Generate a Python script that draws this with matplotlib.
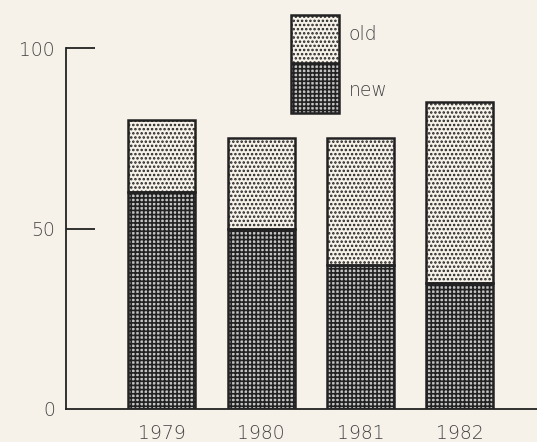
import matplotlib.pyplot as plt
from matplotlib.patches import Rectangle
import numpy as np

years = ["1979", "1980", "1981", "1982"]
new = [60, 50, 40, 35]
old = [20, 25, 35, 50]

paper = "#f6f2e9"
ink = "#222222"
txt = "#444444"

plt.rcParams['hatch.linewidth'] = 1.2

fig = plt.figure(figsize=(5.37, 4.42), dpi=100, facecolor=paper)
W, H = 537, 442
x0, x1 = 66, 537
y0, y100 = 409, 48
ax = fig.add_axes([x0 / W, (H - y0) / H, (x1 - x0) / W, (y0 - y100) / H])
ax.set_facecolor(paper)

step = 99.5
xa = -(161.5 - x0) / step
ax.set_xlim(xa, xa + (x1 - x0) / step)
ax.set_ylim(0, 100)

x = np.arange(len(years))
w = 67 / step

# fill with patterns, then outline
ax.bar(x, new, w, color="#c4c4c4", edgecolor=ink, hatch="++++", linewidth=0)
ax.bar(x, old, w, bottom=new, color=paper, edgecolor=ink, hatch="....", linewidth=0)
ax.bar(x, new, w, fill=False, edgecolor=ink, linewidth=1.8)
ax.bar(x, old, w, bottom=new, fill=False, edgecolor=ink, linewidth=1.8)

for s in ["top", "right"]:
    ax.spines[s].set_visible(False)
ax.spines["left"].set_color(ink)
ax.spines["bottom"].set_color(ink)
ax.spines["left"].set_linewidth(1.3)
ax.spines["bottom"].set_linewidth(1.3)

ax.set_yticks([0, 50, 100])
ax.set_yticklabels(["0", "50", "100"])
ax.tick_params(axis="y", length=0, pad=8, labelsize=13.5, labelcolor=txt)
ax.set_xticks(x)
ax.set_xticklabels(years)
ax.tick_params(axis="x", length=0, pad=11, labelsize=13.5, labelcolor=txt)
for lab in ax.get_yticklabels() + ax.get_xticklabels():
    lab.set_fontweight("light")
ax.hlines([50, 100], xa, xa + 29 / step, color=ink, linewidth=1.3, clip_on=False)

# legend box drawn in pixel coords
lx, lw = 291, 48
fig.patches.append(Rectangle((lx, H - 63), lw, 48, transform=None, facecolor=paper,
                             edgecolor=ink, hatch="....", linewidth=0))
fig.patches.append(Rectangle((lx, H - 113), lw, 50, transform=None, facecolor="#c4c4c4",
                             edgecolor=ink, hatch="++++", linewidth=0))
fig.patches.append(Rectangle((lx, H - 113), lw, 98, transform=None, fill=False,
                             edgecolor=ink, linewidth=1.8))
fig.patches.append(Rectangle((lx, H - 63), lw, 0, transform=None, fill=False,
                             edgecolor=ink, linewidth=1.8))
fig.text(349 / W, 1 - 35 / H, "old", fontsize=13.5, color=txt, va="center", fontweight="light")
fig.text(349 / W, 1 - 91 / H, "new", fontsize=13.5, color=txt, va="center", fontweight="light")

plt.savefig("out.png", dpi=100, facecolor=paper)
